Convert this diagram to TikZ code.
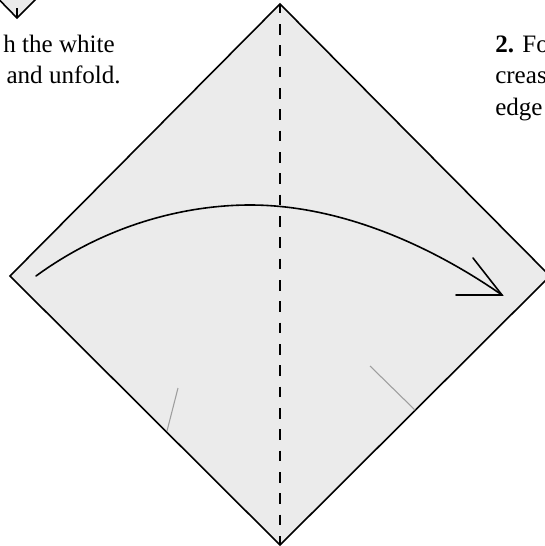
\documentclass[tikz,border=0pt]{standalone}
\usepackage{fontspec}
\setmainfont{Liberation Serif}
\definecolor{paperfill}{HTML}{EBEBEB}
\tikzset{
  paper/.style={fill=paperfill,draw=black,line width=1.2pt,line join=miter},
  crease/.style={draw=black,line width=1.7pt,dash pattern=on 8pt off 8pt,dash phase=1pt},
  pinch/.style={draw=black!38,line width=0.8pt},
  fold/.style={draw=black,line width=1.2pt,line cap=round},
  caption/.style={font=\fontsize{18.8pt}{23pt}\selectfont,inner sep=0pt,text=black}
}
\begin{document}
\begin{tikzpicture}[x=0.75pt,y=-0.75pt]
\useasboundingbox (0,0) rectangle (545,546);
\clip (0,0) rectangle (545,546);
% previous step's paper corner
\draw[paper] (-18,-18) -- (17,18) -- (53,-18);
\draw[draw=black,line width=1.5pt] (17,8) -- (17,18);
% main paper
\coordinate (T) at (280,4);
\coordinate (R) at (550,276);
\coordinate (B) at (280,545);
\coordinate (L) at (10,276);
\draw[paper] (T) -- (R) -- (B) -- (L) -- cycle;
\draw[crease] (T) -- (B);
% pinch marks
\draw[pinch] (370,366) -- (415,410);
\draw[pinch] (178,388) -- (167,431);
% fold arrow
\coordinate (S) at (36,276);
\coordinate (E) at (502,295);
\draw[fold] (S) .. controls (110,222) and (190,205) .. (250,205)
  .. controls (340,205) and (430,245) .. (E);
\draw[fold] (456,295) -- (E) -- (473,258);
% text
\node[caption,anchor=base east] at (115,52) {h the white};
\node[caption,anchor=base east] at (121,83) {and unfold.};
\node[caption,anchor=base west] at (495,52) {\textbf{2.} Fo};
\node[caption,anchor=base west] at (495,83) {creas};
\node[caption,anchor=base west] at (495,115) {edge};
\end{tikzpicture}
\end{document}
